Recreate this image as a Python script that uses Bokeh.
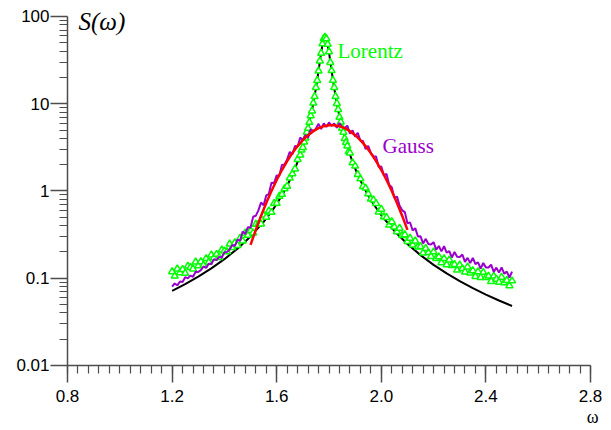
from bokeh.plotting import figure
from bokeh.models import Range1d, FixedTicker, Label, Title
from bokeh.embed import file_html
from bokeh.resources import INLINE

# ---- data ----
lorentz_fit_x = [1.20, 1.25, 1.30, 1.35, 1.40, 1.45, 1.50, 1.55, 1.58, 1.60, 1.62, 1.64, 1.66, 1.68,
                 1.70, 1.71, 1.72, 1.73, 1.74, 1.75, 1.76, 1.77, 1.78, 1.785, 1.79, 1.80, 1.81, 1.82,
                 1.83, 1.84, 1.85, 1.86, 1.87, 1.89, 1.91, 1.93, 1.95, 1.97, 2.00, 2.05, 2.10, 2.15,
                 2.20, 2.25, 2.30, 2.35, 2.40, 2.45, 2.50]
lorentz_fit_y = [0.0718, 0.0858, 0.1044, 0.1297, 0.1655, 0.2184, 0.3013, 0.4422, 0.5797, 0.7103, 0.8902,
                 1.148, 1.534, 2.151, 3.222, 4.076, 5.307, 7.162, 10.10, 15.05, 23.77, 38.74, 56.55, 60.0,
                 56.55, 38.74, 23.77, 15.05, 10.10, 7.162, 5.307, 4.076, 3.222, 2.151, 1.534, 1.148,
                 0.8902, 0.7103, 0.5275, 0.3483, 0.2469, 0.1841, 0.1425, 0.1136, 0.0926, 0.0770,
                 0.0650, 0.0556, 0.0481]

lorentz_data_x = [1.20, 1.21, 1.22, 1.23, 1.24, 1.25, 1.26, 1.27, 1.28, 1.29,
                  1.30, 1.31, 1.32, 1.33, 1.34, 1.35, 1.36, 1.37, 1.38, 1.39,
                  1.40, 1.41, 1.42, 1.43, 1.44, 1.45, 1.46, 1.47, 1.48, 1.49,
                  1.50, 1.51, 1.52, 1.53, 1.54, 1.55, 1.56, 1.57, 1.58, 1.59,
                  1.60, 1.61, 1.62, 1.63, 1.64, 1.65, 1.66, 1.67, 1.68, 1.69,
                  1.695, 1.70, 1.705, 1.71, 1.715, 1.72, 1.725, 1.73, 1.735, 1.74,
                  1.745, 1.75, 1.755, 1.76, 1.765, 1.77, 1.775, 1.78, 1.785, 1.79,
                  1.795, 1.80, 1.805, 1.81, 1.815, 1.82, 1.825, 1.83, 1.835, 1.84,
                  1.845, 1.85, 1.855, 1.86, 1.865, 1.87, 1.875,
                  1.88, 1.89, 1.90, 1.91, 1.92, 1.93, 1.94, 1.95, 1.96, 1.97,
                  1.98, 1.99, 2.00, 2.01, 2.02, 2.03, 2.04, 2.05, 2.06, 2.07,
                  2.08, 2.09, 2.10, 2.11, 2.12, 2.13, 2.14, 2.15, 2.16, 2.17,
                  2.18, 2.19, 2.20, 2.21, 2.22, 2.23, 2.24, 2.25, 2.26, 2.27,
                  2.28, 2.29, 2.30, 2.31, 2.32, 2.33, 2.34, 2.35, 2.36, 2.37,
                  2.38, 2.39, 2.40, 2.41, 2.42, 2.43, 2.44, 2.45, 2.46, 2.47,
                  2.48, 2.49, 2.50]
lorentz_data_y = [0.119, 0.106, 0.128, 0.116, 0.126, 0.114, 0.138, 0.133, 0.128, 0.154,
                  0.139, 0.155, 0.141, 0.168, 0.153, 0.185, 0.171, 0.188, 0.173, 0.211,
                  0.206, 0.202, 0.247, 0.225, 0.256, 0.238, 0.288, 0.267, 0.331, 0.312,
                  0.352, 0.331, 0.416, 0.416, 0.420, 0.530, 0.502, 0.591, 0.570, 0.721,
                  0.724, 0.871, 0.916, 1.064, 1.135, 1.408, 1.574, 1.789, 2.301, 2.594,
                  2.95, 3.16, 3.65, 4.04, 4.73, 5.23, 6.14, 7.31, 8.29, 10.2,
                  12.1, 15.4, 18.5, 23.8, 31.0, 38.0, 48.7, 56.0, 58.0, 55.7,
                  48.2, 39.5, 29.8, 24.0, 18.6, 15.4, 12.1, 10.1, 8.62, 7.02,
                  6.20, 5.25, 4.73, 4.01, 3.61, 3.29, 2.83,
                  2.73, 2.11, 1.93, 1.55, 1.38, 1.13, 1.08, 0.930, 0.809, 0.788,
                  0.721, 0.576, 0.619, 0.507, 0.497, 0.407, 0.445, 0.388, 0.342, 0.375,
                  0.309, 0.316, 0.264, 0.288, 0.240, 0.268, 0.228, 0.231, 0.195, 0.220,
                  0.197, 0.178, 0.201, 0.169, 0.176, 0.151, 0.168, 0.143, 0.162, 0.140,
                  0.144, 0.124, 0.142, 0.129, 0.118, 0.135, 0.115, 0.122, 0.105, 0.119,
                  0.102, 0.117, 0.102, 0.106, 0.0919, 0.106, 0.0973, 0.0899, 0.103, 0.0887,
                  0.0945, 0.0823, 0.0934]

gauss_data_x = [1.20, 1.21, 1.22, 1.23, 1.24, 1.25, 1.26, 1.27, 1.28, 1.29,
                1.30, 1.31, 1.32, 1.33, 1.34, 1.35, 1.36, 1.37, 1.38, 1.39,
                1.40, 1.41, 1.42, 1.43, 1.44, 1.45, 1.46, 1.47, 1.48, 1.49,
                1.50, 1.51, 1.52, 1.53, 1.54, 1.55, 1.56, 1.57, 1.58, 1.59,
                1.60, 1.61, 1.62, 1.63, 1.64, 1.65, 1.66, 1.67, 1.68, 1.69,
                1.70, 1.71, 1.72, 1.73, 1.74, 1.75, 1.76, 1.77, 1.78, 1.79,
                1.80, 1.81, 1.82, 1.83, 1.84, 1.85, 1.86, 1.87, 1.88, 1.89,
                1.90, 1.91, 1.92, 1.93, 1.94, 1.95, 1.96, 1.97, 1.98, 1.99,
                2.00, 2.01, 2.02, 2.03, 2.04, 2.05, 2.06, 2.07, 2.08, 2.09,
                2.10, 2.11, 2.12, 2.13, 2.14, 2.15, 2.16, 2.17, 2.18, 2.19,
                2.20, 2.21, 2.22, 2.23, 2.24, 2.25, 2.26, 2.27, 2.28, 2.29,
                2.30, 2.31, 2.32, 2.33, 2.34, 2.35, 2.36, 2.37, 2.38, 2.39,
                2.40, 2.41, 2.42, 2.43, 2.44, 2.45, 2.46, 2.47, 2.48, 2.49, 2.50]
gauss_data_y = [0.0800, 0.0872, 0.0830, 0.0917, 0.0907, 0.1028, 0.0995, 0.1071, 0.1041, 0.1186,
                0.1178, 0.124, 0.1365, 0.1312, 0.1463, 0.1453, 0.1654, 0.1615, 0.1754, 0.1729,
                0.1986, 0.2000, 0.214, 0.2394, 0.2355, 0.2777, 0.2689, 0.3427, 0.3220, 0.3848,
                0.3822, 0.5076, 0.5194, 0.600, 0.737, 0.688, 0.890, 0.9215, 1.243, 1.232,
                1.508, 1.492, 1.987, 2.019, 2.30, 2.805, 2.623, 3.286, 3.211, 4.099,
                3.822, 4.378, 4.068, 5.098, 4.851, 5.16, 5.885, 5.115, 5.957, 5.415,
                6.10, 5.587, 5.949, 5.32, 6.016, 5.331, 5.28, 5.61, 4.548, 4.940,
                4.190, 4.648, 3.764, 3.744, 3.021, 3.283, 2.715, 2.51, 2.486, 1.879,
                1.908, 1.511, 1.568, 1.183, 1.102, 0.837, 0.864, 0.676, 0.600, 0.572,
                0.428, 0.435, 0.352, 0.375, 0.301, 0.302, 0.250, 0.283, 0.247, 0.243,
                0.259, 0.212, 0.234, 0.203, 0.233, 0.196, 0.204, 0.173, 0.200, 0.176,
                0.175, 0.187, 0.154, 0.171, 0.149, 0.171, 0.145, 0.152, 0.129, 0.150,
                0.133, 0.133, 0.143, 0.118, 0.1325, 0.116, 0.133, 0.113, 0.119, 0.102, 0.119]

gauss_fit_x = [1.50, 1.52, 1.54, 1.56, 1.58, 1.60, 1.62, 1.64, 1.66, 1.68, 1.70, 1.72, 1.74, 1.76,
               1.78, 1.80, 1.82, 1.84, 1.86, 1.88, 1.90, 1.92, 1.94, 1.96, 1.98, 2.00, 2.02, 2.04,
               2.06, 2.08, 2.10]
gauss_fit_y = [0.2415, 0.3585, 0.518, 0.7295, 1.000, 1.336, 1.739, 2.203, 2.720, 3.269, 3.829, 4.367,
               4.851, 5.250, 5.534, 5.681, 5.681, 5.534, 5.250, 4.851, 4.367, 3.829, 3.269, 2.720,
               2.203, 1.739, 1.336, 1.000, 0.7295, 0.518, 0.3585]

x_ticks = [0.8, 1.2, 1.6, 2.0, 2.4, 2.8]
x_tick_labels = ["0.8", "1.2", "1.6", "2.0", "2.4", "2.8"]
y_ticks = [0.01, 0.1, 1, 10, 100]
y_tick_labels = ["0.01", "0.1", "1", "10", "100"]

GREEN = "#00FF00"
PURPLE = "#9900CC"
AXIS = "#4d4d4d"

p = figure(width=605, height=430, output_backend="svg", toolbar_location=None,
           y_axis_type="log",
           x_range=Range1d(0.79999, 2.80001), y_range=Range1d(0.0099999, 130.2),
           min_border_left=67, min_border_right=15, min_border_top=6, min_border_bottom=65)
p.outline_line_color = None
p.grid.visible = False
p.background_fill_color = "white"

x_minor = [round(0.8 + 0.04 * i, 2) for i in range(51)]
y_minor = [m * d for d in (0.01, 0.1, 1, 10) for m in range(2, 10)]
p.xaxis.ticker = FixedTicker(ticks=x_ticks, minor_ticks=x_minor)
p.yaxis.ticker = FixedTicker(ticks=y_ticks, minor_ticks=y_minor)
p.xaxis.major_label_overrides = dict(zip(x_ticks, x_tick_labels))
p.yaxis.major_label_overrides = dict(zip(y_ticks, y_tick_labels))
p.yaxis.bounds = (0.01, 100)

for ax in (p.xaxis, p.yaxis):
    ax.axis_line_color = AXIS
    ax.axis_line_width = 1.5
    ax.major_tick_line_color = AXIS
    ax.minor_tick_line_color = AXIS
    ax.major_tick_line_width = 1.5
    ax.minor_tick_line_width = 1.2
    ax.major_tick_out = 17
    ax.major_tick_in = 0
    ax.minor_tick_out = 8
    ax.minor_tick_in = 0
    ax.major_label_text_font = "Liberation Sans"
    ax.major_label_text_font_size = "17px"
    ax.major_label_text_color = "black"
p.xaxis.major_label_standoff = 7
p.yaxis.major_label_standoff = 1

p.add_layout(Title(text="ω", align="right", offset=-8, standoff=0,
                   text_font="Liberation Serif", text_font_style="normal",
                   text_font_size="18px", text_color="black"), "below")

p.line(lorentz_fit_x, lorentz_fit_y, line_color="black", line_width=2)
p.scatter(lorentz_data_x, lorentz_data_y, marker="triangle", size=7,
          line_color=GREEN, line_width=1.5, fill_color="white")
p.line(gauss_data_x, gauss_data_y, line_color=PURPLE, line_width=2)
p.line(gauss_fit_x, gauss_fit_y, line_color="#FF0000", line_width=2.5)

p.add_layout(Label(x=0.842, y=87.0, text="S(ω)", text_font="Liberation Serif",
                   text_font_style="italic", text_font_size="25px", text_color="black",
                   text_baseline="alphabetic"))
p.add_layout(Label(x=1.8325, y=40.6, text="Lorentz", text_font="Liberation Serif",
                   text_font_size="21px", text_color=GREEN, text_baseline="alphabetic"))
p.add_layout(Label(x=2.0046, y=3.28, text="Gauss", text_font="Liberation Serif",
                   text_font_size="21px", text_color=PURPLE, text_baseline="alphabetic"))

open("out.html", "w").write(file_html(p, INLINE))
